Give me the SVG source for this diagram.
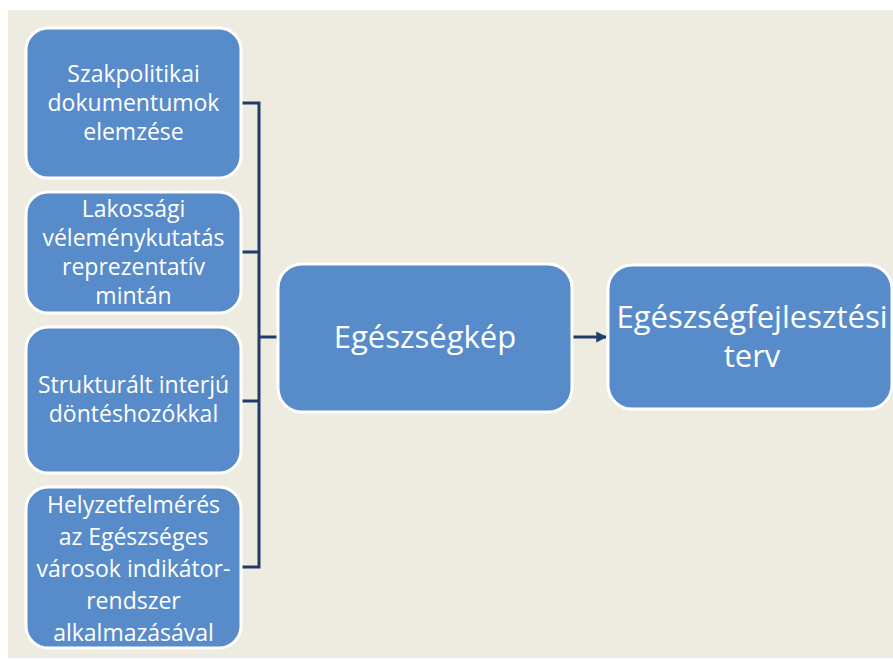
<svg xmlns="http://www.w3.org/2000/svg" width="893" height="660" viewBox="0 0 893 660">
<style>
.box{fill:#588BCA;stroke:#FFFFFF;stroke-width:3}
.t{font-family:"Open Sans","Noto Sans",sans-serif;fill:#FFFFFF;text-anchor:middle}
.s{font-size:23px}
.b{font-size:31px}
.ln{fill:none;stroke:#1F3D6B;stroke-width:3}
</style>
<defs>
<marker id="ah" viewBox="0 0 10 10" refX="9" refY="5" markerWidth="3.6" markerHeight="4" orient="auto" markerUnits="strokeWidth">
<path d="M0,0 L10,5 L0,10 z" fill="#1F3D6B"/>
</marker>
</defs>
<rect x="0" y="0" width="893" height="660" fill="#FFFFFF"/>
<rect x="8" y="10" width="885" height="648" fill="#EEEBE1"/>
<g id="connectors">
<path class="ln" d="M241,103 H259 V567 H241"/>
<path class="ln" d="M241,252 H259"/>
<path class="ln" d="M241,401 H259"/>
<path class="ln" d="M259,337 H277"/>
<path class="ln" d="M573,337 H606" marker-end="url(#ah)"/>
</g>
<g id="n1">
<rect class="box" x="26" y="28" width="215" height="150" rx="22"/>
<text class="t s"><tspan x="133.5" y="82">Szakpolitikai</tspan><tspan x="133.5" y="111">dokumentumok</tspan><tspan x="133.5" y="140">elemzése</tspan></text>
</g>
<g id="n2">
<rect class="box" x="26" y="192" width="215" height="121" rx="22"/>
<text class="t s"><tspan x="133.5" y="217">Lakossági</tspan><tspan x="133.5" y="246">véleménykutatás</tspan><tspan x="133.5" y="275">reprezentatív</tspan><tspan x="133.5" y="304">mintán</tspan></text>
</g>
<g id="n3">
<rect class="box" x="26" y="327" width="215" height="146" rx="22"/>
<text class="t s"><tspan x="133.5" y="393">Strukturált interjú</tspan><tspan x="133.5" y="422">döntéshozókkal</tspan></text>
</g>
<g id="n4">
<rect class="box" x="26" y="487" width="215" height="161" rx="22"/>
<text class="t s"><tspan x="133.5" y="513">Helyzetfelmérés</tspan><tspan x="133.5" y="545">az Egészséges</tspan><tspan x="133.5" y="577">városok indikátor-</tspan><tspan x="133.5" y="609">rendszer</tspan><tspan x="133.5" y="641">alkalmazásával</tspan></text>
</g>
<g id="n5">
<rect class="box" x="278" y="264" width="294" height="148" rx="24"/>
<text class="t b" x="425" y="348">Egészségkép</text>
</g>
<g id="n6">
<rect class="box" x="608" y="265" width="284" height="144" rx="24"/>
<text class="t b"><tspan x="752" y="328">Egészségfejlesztési</tspan><tspan x="752" y="367">terv</tspan></text>
</g>
</svg>
